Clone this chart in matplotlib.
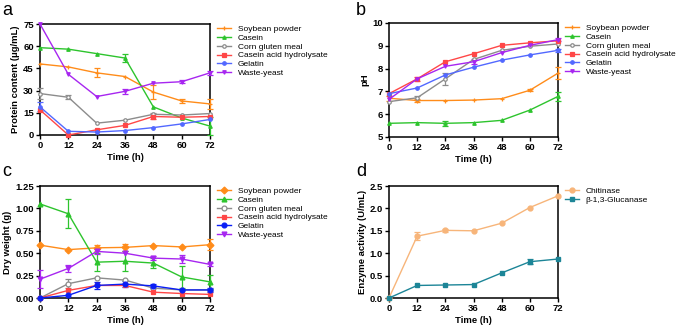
import numpy as np
import matplotlib.pyplot as plt

plt.rcParams['font.family'] = ['Liberation Sans', 'DejaVu Sans']

time_h = [0, 12, 24, 36, 48, 60, 72]
series_names = ['Soybean powder', 'Casein', 'Corn gluten meal',
                'Casein acid hydrolysate', 'Gelatin', 'Waste-yeast']

# panel a: protein content (ug/mL)
protein = {
    'Soybean powder': [48, 46, 42, 39.5, 29, 23, 21],
    'Casein': [59, 58, 55, 52, 19, 11.5, 6],
    'Corn gluten meal': [28, 25.5, 8, 10, 14, 13.5, 14.5],
    'Casein acid hydrolysate': [17, 0, 3.5, 6.5, 12.5, 12, 12.5],
    'Gelatin': [19, 2.5, 2, 3, 5, 7.5, 10.5],
    'Waste-yeast': [75, 41, 26, 29.5, 35, 36, 42],
}
protein_err = {
    'Soybean powder': [0, 0, 3, 0, 5, 1.5, 3.5],
    'Casein': [0, 0, 0, 2.5, 0, 0, 6],
    'Corn gluten meal': [4, 1.5, 0, 0, 1, 0, 0],
    'Casein acid hydrolysate': [0, 0, 0, 0, 2, 0, 0],
    'Gelatin': [3, 0, 0, 0, 0, 0, 0],
    'Waste-yeast': [0, 0, 0, 1.5, 0, 1, 1.5],
}

# panel b: pH
ph = {
    'Soybean powder': [6.7, 6.6, 6.6, 6.62, 6.68, 7.05, 7.8],
    'Casein': [5.6, 5.63, 5.6, 5.63, 5.73, 6.18, 6.78],
    'Corn gluten meal': [6.55, 6.72, 7.55, 8.4, 8.8, 8.98, 9.08],
    'Casein acid hydrolysate': [6.9, 7.55, 8.3, 8.65, 9.02, 9.13, 9.22],
    'Gelatin': [6.9, 7.15, 7.72, 8.06, 8.37, 8.6, 8.8],
    'Waste-yeast': [6.65, 7.55, 8.1, 8.3, 8.7, 9.02, 9.27],
}
ph_err = {
    'Soybean powder': [0.1, 0.08, 0, 0, 0, 0.05, 0.25],
    'Casein': [0, 0, 0.12, 0, 0, 0, 0.2],
    'Corn gluten meal': [0, 0.1, 0.25, 0, 0, 0, 0],
    'Casein acid hydrolysate': [0, 0.1, 0, 0, 0, 0, 0],
    'Gelatin': [0, 0, 0, 0, 0, 0, 0.08],
    'Waste-yeast': [0, 0, 0, 0.1, 0, 0, 0.08],
}

# panel c: dry weight (g)
dry = {
    'Soybean powder': [0.59, 0.54, 0.56, 0.565, 0.585, 0.57, 0.595],
    'Casein': [1.05, 0.94, 0.40, 0.41, 0.39, 0.235, 0.18],
    'Corn gluten meal': [0.0, 0.16, 0.225, 0.2, 0.11, 0.09, 0.09],
    'Casein acid hydrolysate': [0.0, 0.085, 0.14, 0.14, 0.065, 0.05, 0.04],
    'Gelatin': [0.0, 0.03, 0.14, 0.155, 0.135, 0.09, 0.09],
    'Waste-yeast': [0.21, 0.33, 0.52, 0.50, 0.445, 0.435, 0.375],
}
dry_err = {
    'Soybean powder': [0, 0, 0.03, 0.04, 0, 0, 0.06],
    'Casein': [0, 0.16, 0.1, 0.11, 0.06, 0.12, 0.08],
    'Corn gluten meal': [0, 0.05, 0, 0, 0, 0, 0],
    'Casein acid hydrolysate': [0, 0, 0, 0, 0, 0, 0],
    'Gelatin': [0, 0, 0.04, 0.03, 0.02, 0, 0.02],
    'Waste-yeast': [0.1, 0.04, 0.03, 0, 0.02, 0.04, 0.02],
}

# panel d: enzyme activity (U/mL)
chitinase = [0, 1.38, 1.51, 1.5, 1.67, 2.02, 2.28]
chitinase_err = [0, 0.09, 0.04, 0, 0, 0, 0]
glucanase = [0, 0.28, 0.29, 0.30, 0.56, 0.81, 0.87]
glucanase_err = [0, 0, 0, 0, 0, 0.05, 0]

colors_ab = ['#FF8C1A', '#2DC42D', '#8C8C8C', '#FF4747', '#5268FF', '#A726F0']
colors_c = ['#FF8C1A', '#2DC42D', '#8C8C8C', '#FF4747', '#0A1EF5', '#A726F0']
markers_ab = ['+', '^', 'o', 's', 'o', 'v']
markers_c = ['D', '^', 'o', 's', 'o', 'v']

W, H = 678, 329
fig = plt.figure(figsize=(W / 100, H / 100), dpi=100)


def px_axes(left, top, right, bottom):
    return fig.add_axes([left / W, 1 - bottom / H, (right - left) / W, (bottom - top) / H])


def style(ax, ylim, yticks, ylabel, fmt):
    ax.set_xlim(0, 72)
    ax.set_xticks(time_h)
    ax.set_ylim(*ylim)
    ax.set_yticks(yticks)
    ax.set_yticklabels([fmt.format(v) for v in yticks])
    ax.set_xlabel('Time (h)', fontsize=6.8, fontweight='bold', labelpad=2)
    ax.set_ylabel(ylabel, fontsize=6.8, fontweight='bold', labelpad=2)
    for sp in ax.spines.values():
        sp.set_linewidth(1.1)
    ax.tick_params(direction='out', length=3, width=1, labelsize=6.8, pad=1.5)
    for lab in ax.get_xticklabels() + ax.get_yticklabels():
        lab.set_fontweight('bold')


def nz(err):
    e = np.array(err, dtype=float)
    return np.where(e > 0, e, np.nan)


def draw(ax, data, errs, colors, markers, ms):
    for i, name in enumerate(series_names):
        open_m = (name == 'Corn gluten meal')
        ax.errorbar(time_h, data[name], yerr=nz(errs[name]), color=colors[i],
                    marker=markers[i], markersize=ms, lw=1.0, elinewidth=0.9,
                    capsize=2, capthick=0.9,
                    mfc='white' if open_m else colors[i], mew=0.9,
                    label=name, clip_on=False, zorder=3)


def legend(ax):
    handles, labels = ax.get_legend_handles_labels()
    handles = [h[0] for h in handles]
    ax.legend(handles, labels, loc='upper left', bbox_to_anchor=(1.04, 0.99),
              frameon=False, fontsize=6.0, labelspacing=0.12, handlelength=1.7,
              handletextpad=0.8, borderaxespad=0, borderpad=0)


# a
ax_a = px_axes(40, 24, 210, 135)
draw(ax_a, protein, protein_err, colors_ab, markers_ab, 2.5)
style(ax_a, (0, 75), [0, 15, 30, 45, 60, 75], 'Protein content (μg/mL)', '{:.0f}')
legend(ax_a)

# b
ax_b = px_axes(389, 23, 558, 137)
draw(ax_b, ph, ph_err, colors_ab, markers_ab, 2.5)
style(ax_b, (5, 10), [5, 6, 7, 8, 9, 10], 'pH', '{:.0f}')
legend(ax_b)

# c
ax_c = px_axes(40, 186, 210, 298)
draw(ax_c, dry, dry_err, colors_c, markers_c, 3.5)
style(ax_c, (0, 1.25), [0, 0.25, 0.5, 0.75, 1.0, 1.25], 'Dry weight (g)', '{:.2f}')
legend(ax_c)

# d
ax_d = px_axes(389, 186, 558, 298)
ax_d.errorbar(time_h, chitinase, yerr=nz(chitinase_err), color='#F7B57A', marker='o',
              markersize=3.5, lw=1.0, elinewidth=0.9, capsize=2, capthick=0.9,
              label='Chitinase', clip_on=False, zorder=3)
ax_d.errorbar(time_h, glucanase, yerr=nz(glucanase_err), color='#1C8597', marker='s',
              markersize=3.5, lw=1.0, elinewidth=0.9, capsize=2, capthick=0.9,
              label='β-1,3-Glucanase', clip_on=False, zorder=3)
style(ax_d, (0, 2.5), [0, 0.5, 1.0, 1.5, 2.0, 2.5], 'Enzyme activity (U/mL)', '{:.1f}')
legend(ax_d)

for lbl, x, y in [('a', 2, 2), ('b', 356, 2), ('c', 2, 163), ('d', 356, 163)]:
    fig.text(x / W, 1 - y / H, lbl, fontsize=13, va='top', ha='left')

fig.savefig('out.png', dpi=100)
